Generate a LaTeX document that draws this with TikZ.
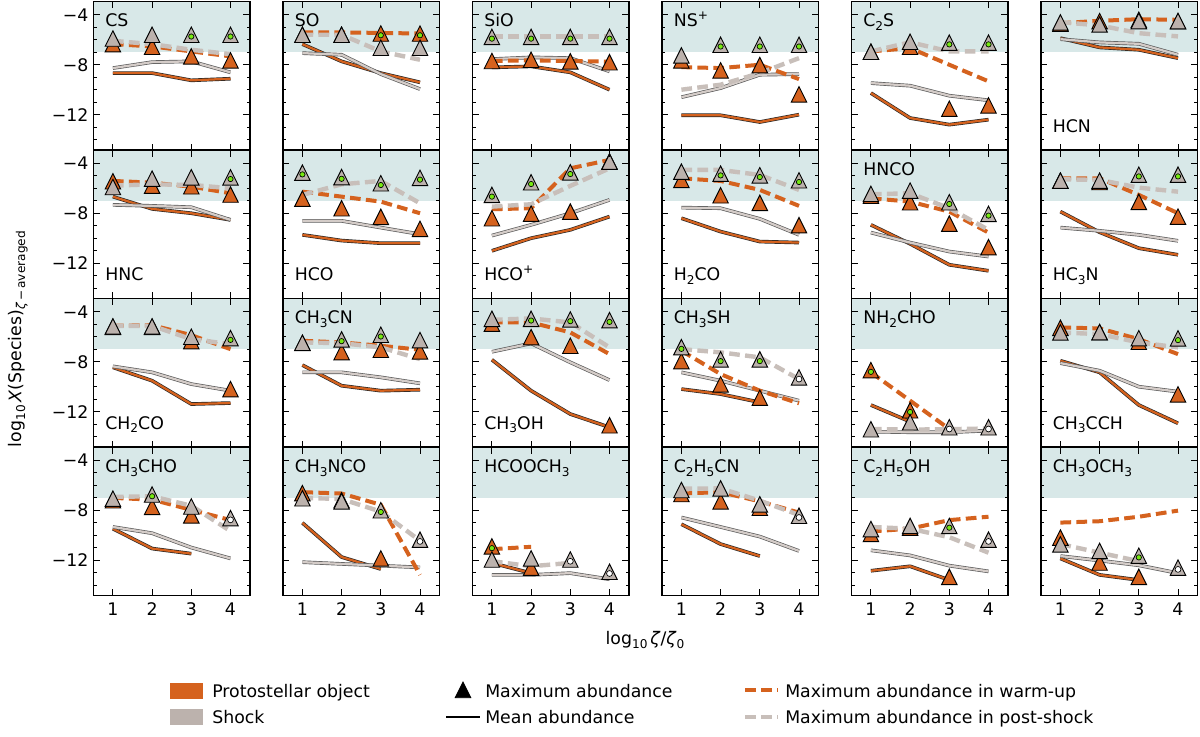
\documentclass[tikz,border=0pt]{standalone}
\usepackage{fontspec}
\setmainfont{DejaVu Sans}
\definecolor{cO}{RGB}{213,98,30}
\definecolor{cG}{RGB}{188,178,173}
\definecolor{cGl}{RGB}{212,204,200}
\definecolor{cGd}{RGB}{200,191,186}
\definecolor{cShade}{RGB}{216,232,232}
\definecolor{cLime}{RGB}{118,232,18}
\newcommand\sbs[1]{\raisebox{-0.22em}{\fontsize{9.1}{10}\selectfont #1}}
\newcommand\sps[1]{\raisebox{0.42em}{\fontsize{9.1}{10}\selectfont #1}}
\tikzset{
 meanO/.style={draw=black!85, line width=0.5pt, double=cO, double distance=1.7pt, line join=round},
 meanG/.style={draw=black!65, line width=0.5pt, double=cGl, double distance=1.7pt, line join=round},
 dashO/.style={draw=cO, line width=3pt, dash pattern=on 8pt off 4pt},
 dashG/.style={draw=cGd, line width=3.3pt, dash pattern=on 8pt off 4pt},
 trimk/.style={draw=black, line width=0.7pt, line join=miter},
 dotmk/.style={draw=black, line width=0.5pt},
 axframe/.style={draw=black, line width=1.1pt},
 tk/.style={draw=black, line width=0.75pt},
 tkl/.style={inner sep=0pt},
 plab/.style={inner sep=0pt, anchor=base west},
}
\newcommand\PmO[1]{\draw[meanO] plot coordinates {#1};}
\newcommand\PmG[1]{\draw[meanG] plot coordinates {#1};}
\newcommand\PdO[1]{\draw[dashO] plot coordinates {#1};}
\newcommand\PdG[1]{\draw[dashG] plot coordinates {#1};}
\newcommand\PtO[2]{\filldraw[trimk, fill=cO, shift={(#1,#2)}] (0pt,5.8pt) -- (-5.8pt,-5.8pt) -- (5.8pt,-5.8pt) -- cycle;}
\newcommand\PtG[2]{\filldraw[trimk, fill=cG, shift={(#1,#2)}] (0pt,5.8pt) -- (-5.8pt,-5.8pt) -- (5.8pt,-5.8pt) -- cycle;}
\newcommand\PgD[2]{\filldraw[dotmk, fill=cLime] ([yshift=-1.3pt]#1,#2) circle (2pt);}
\newcommand\PwD[2]{\filldraw[dotmk, fill=white] ([yshift=-1.3pt]#1,#2) circle (2.2pt);}
\newcommand\Panel[5]{%
 \pgfmathsetmacro\PXo{(93.3+189.5*#1-19.6)*0.75}%
 \pgfmathsetmacro\PYo{-(1.7+148.5*#2-36.8)*0.75}%
 \begin{scope}[shift={(\PXo pt,\PYo pt)}, x=29.4pt, y=9.36pt]
 \fill[cShade] (0.5,-7) rectangle (4.5,-2.95);
 #5
 \draw[axframe] (0.5,-14.85) rectangle (4.5,-2.95);
 \foreach \t in {1,2,3,4} {\draw[tk] (\t,-14.85) -- ++(0pt,5pt); \draw[tk] (\t,-2.95) -- ++(0pt,-5pt);}
 \foreach \t in {-4,-8,-12} {\draw[tk] (0.5,\t) -- ++(5pt,0pt); \draw[tk] (4.5,\t) -- ++(-5pt,0pt);}
 \foreach \t in {-5,-6,-7,-9,-10,-11,-13,-14} {\draw[tk] (0.5,\t) -- ++(2.6pt,0pt); \draw[tk] (4.5,\t) -- ++(-2.6pt,0pt);}
 \ifnum#1=0
  \foreach \v/\n in {-4/4,-8/8,-12/12} {\node[tkl, anchor=east] (yl#2n\n) at ([xshift=-3.5pt]0.5,\v) {−\n};}
 \fi
 \ifnum#2=3
  \foreach \t in {1,2,3,4} {\node[tkl] (xl#1n\t) at ([yshift=-9.8pt]\t,-14.85) {\t};}
 \fi
 \node[plab] (lab#1n#2) at (0.8,#4) {#3};
 \end{scope}}
\begin{document}
\begin{tikzpicture}[font=\fontsize{13}{15.5}\selectfont]
\useasboundingbox (0pt,0pt) rectangle (900pt,-552pt);
\fill[white] (0pt,0pt) rectangle (900pt,-552pt);
% ---------------- Row 0
\Panel{0}{0}{CS}{-4.96}{
\PmO{(1,-8.67) (2,-8.67) (3,-9.25) (4,-9.12)}
\PmG{(1,-8.27) (2,-7.79) (3,-7.73) (4,-8.61)}
\PdO{(1,-6.35) (2,-6.53) (3,-6.93) (4,-7.33)}
\PdG{(1,-6.08) (2,-6.35) (3,-6.8) (4,-7.15)}
\PtO{1}{-6.35}\PtO{2}{-6.56}\PtO{3}{-7.33}\PtO{4}{-7.65}
\PtG{1}{-5.9}\PtG{2}{-5.6}\PtG{3}{-5.6}\PgD{3}{-5.6}\PtG{4}{-5.6}\PgD{4}{-5.6}
}
\Panel{1}{0}{SO}{-4.96}{
\PmO{(1,-6.35) (2,-7.73) (3,-8.67) (4,-9.41)}
\PmG{(1,-7.07) (2,-7.2) (3,-8.75) (4,-9.95)}
\PdO{(1,-5.41) (2,-5.41) (3,-5.45) (4,-5.5)}
\PdG{(1,-5.6) (2,-5.6) (3,-6.93) (4,-7.6)}
\PtO{1}{-5.6}\PtO{2}{-5.6}\PtO{3}{-5.5}\PgD{3}{-5.5}\PtO{4}{-5.5}\PgD{4}{-5.5}
\PtG{1}{-5.6}\PtG{2}{-5.6}\PtG{3}{-6.64}\PtG{4}{-6.64}
}
\Panel{2}{0}{SiO}{-4.96}{
\PmO{(1,-8.21) (2,-8.13) (3,-8.61) (4,-10.0)}
\PmG{(1,-7.55) (2,-7.41) (3,-7.47) (4,-8.53)}
\PdO{(1,-7.7) (2,-7.65) (3,-7.7) (4,-7.75)}
\PdG{(1,-5.73) (2,-5.73) (3,-5.73) (4,-5.73)}
\PtO{1}{-7.7}\PtO{2}{-7.6}\PtO{3}{-7.73}\PtO{4}{-7.8}
\PtG{1}{-5.77}\PgD{1}{-5.77}\PtG{2}{-5.77}\PgD{2}{-5.77}\PtG{3}{-5.77}\PgD{3}{-5.77}\PtG{4}{-5.77}\PgD{4}{-5.77}
}
\Panel{3}{0}{NS\sps{+}}{-4.96}{
\PmO{(1,-12.05) (2,-12.05) (3,-12.59) (4,-12.0)}
\PmG{(1,-10.6) (2,-9.87) (3,-8.8) (4,-8.75)}
\PdO{(1,-8.19) (2,-8.27) (3,-8.0) (4,-9.15)}
\PdG{(1,-10.0) (2,-9.6) (3,-8.67) (4,-7.47)}
\PtO{1}{-7.65}\PtO{2}{-8.45}\PtO{3}{-8.03}\PtO{4}{-10.37}
\PtG{1}{-7.25}\PtG{2}{-6.4}\PgD{2}{-6.4}\PtG{3}{-6.4}\PgD{3}{-6.4}\PtG{4}{-6.4}\PgD{4}{-6.4}
}
\Panel{4}{0}{C\sbs{2}S}{-4.96}{
\PmO{(1,-10.27) (2,-12.27) (3,-12.8) (4,-12.4)}
\PmG{(1,-9.47) (2,-9.68) (3,-10.48) (4,-10.85)}
\PdO{(1,-6.93) (2,-6.67) (3,-8.0) (4,-9.33)}
\PdG{(1,-6.93) (2,-6.2) (3,-6.93) (4,-6.93)}
\PtO{1}{-6.96}\PtO{2}{-6.56}\PtO{3}{-11.52}\PtO{4}{-11.25}
\PtG{1}{-6.96}\PtG{2}{-6.16}\PtG{3}{-6.23}\PgD{3}{-6.23}\PtG{4}{-6.23}\PgD{4}{-6.23}
}
\Panel{5}{0}{HCN}{-13.4}{
\PmO{(1,-5.87) (2,-6.61) (3,-6.8) (4,-7.47)}
\PmG{(1,-5.95) (2,-6.21) (3,-6.32) (4,-7.2)}
\PdO{(1,-4.67) (2,-4.48) (3,-4.35) (4,-4.4)}
\PdG{(1,-4.59) (2,-4.85) (3,-5.47) (4,-5.73)}
\PtO{1}{-4.7}\PtO{2}{-4.5}\PtO{3}{-4.4}\PtO{4}{-4.5}
\PtG{1}{-4.61}\PtG{2}{-4.77}\PtG{3}{-4.5}\PtG{4}{-4.5}
}
% ---------------- Row 1
\Panel{0}{1}{HNC}{-13.4}{
\PmO{(1,-6.67) (2,-7.65) (3,-8.0) (4,-8.53)}
\PmG{(1,-7.33) (2,-7.41) (3,-7.52) (4,-8.53)}
\PdO{(1,-5.41) (2,-5.55) (3,-5.87) (4,-6.4)}
\PdG{(1,-5.79) (2,-5.68) (3,-5.73) (4,-6.0)}
\PtO{1}{-5.44}\PtO{2}{-5.79}\PtO{3}{-5.84}\PtO{4}{-6.5}
\PtG{1}{-5.9}\PtG{2}{-5.23}\PtG{3}{-5.12}\PtG{4}{-5.12}\PgD{4}{-5.12}
}
\Panel{1}{1}{HCO}{-13.4}{
\PmO{(1,-9.73) (2,-10.19) (3,-10.4) (4,-10.4)}
\PmG{(1,-8.61) (2,-8.61) (3,-9.15) (4,-9.68)}
\PdO{(1,-6.27) (2,-6.67) (3,-7.07) (4,-8.0)}
\PdG{(1,-6.53) (2,-5.68) (3,-5.41) (4,-7.2)}
\PtO{1}{-6.83}\PtO{2}{-7.6}\PtO{3}{-8.29}\PtO{4}{-9.25}
\PtG{1}{-4.75}\PgD{1}{-4.75}\PtG{2}{-5.1}\PgD{2}{-5.1}\PtG{3}{-5.6}\PgD{3}{-5.6}\PtG{4}{-5.17}\PgD{4}{-5.17}
}
\Panel{2}{1}{HCO\sps{+}}{-13.4}{
\PmO{(1,-11.01) (2,-10.0) (3,-9.33) (4,-8.27)}
\PmG{(1,-9.79) (2,-8.93) (3,-8.0) (4,-6.93)}
\PdO{(1,-7.68) (2,-7.6) (3,-4.4) (4,-3.73)}
\PdG{(1,-7.47) (2,-7.28) (3,-5.81) (4,-4.4)}
\PtO{1}{-8.4}\PtO{2}{-8.03}\PtO{3}{-7.87}\PtO{4}{-3.85}
\PtG{1}{-6.53}\PgD{1}{-6.53}\PtG{2}{-5.52}\PgD{2}{-5.52}\PtG{3}{-4.72}\PgD{3}{-4.72}\PtG{4}{-3.87}
}
\Panel{3}{1}{H\sbs{2}CO}{-13.4}{
\PmO{(1,-8.4) (2,-9.47) (3,-10.27) (4,-10.35)}
\PmG{(1,-7.55) (2,-7.6) (3,-8.45) (4,-9.73)}
\PdO{(1,-5.2) (2,-5.41) (3,-6.13) (4,-7.41)}
\PdG{(1,-4.53) (2,-4.53) (3,-4.93) (4,-6.13)}
\PtO{1}{-5.33}\PtO{2}{-6.56}\PtO{3}{-7.17}\PtO{4}{-8.96}
\PtG{1}{-4.67}\PtG{2}{-4.83}\PgD{2}{-4.83}\PtG{3}{-4.96}\PgD{3}{-4.96}\PtG{4}{-5.36}\PgD{4}{-5.36}
}
\Panel{4}{1}{HNCO}{-4.96}{
\PmO{(1,-8.93) (2,-10.45) (3,-12.13) (4,-12.61)}
\PmG{(1,-9.55) (2,-10.35) (3,-11.07) (4,-11.47)}
\PdO{(1,-6.8) (2,-7.07) (3,-7.87) (4,-9.55)}
\PdG{(1,-6.48) (2,-6.4) (3,-7.6) (4,-9.33)}
\PtO{1}{-6.6}\PtO{2}{-7.12}\PtO{3}{-8.83}\PtO{4}{-10.72}
\PtG{1}{-6.45}\PtG{2}{-6.19}\PtG{3}{-7.12}\PgD{3}{-7.12}\PtG{4}{-8.05}\PgD{4}{-8.05}
}
\Panel{5}{1}{HC\sbs{3}N}{-13.4}{
\PmO{(1,-7.87) (2,-9.52) (3,-10.8) (4,-11.33)}
\PmG{(1,-9.15) (2,-9.41) (3,-9.73) (4,-10.21)}
\PdO{(1,-5.2) (2,-5.2) (3,-6.53) (4,-8.0)}
\PdG{(1,-5.28) (2,-5.33) (3,-5.95) (4,-6.27)}
\PtO{1}{-5.39}\PtO{2}{-5.5}\PtO{3}{-7.09}\PtO{4}{-8.27}
\PtG{1}{-5.39}\PtG{2}{-5.39}\PtG{3}{-4.91}\PgD{3}{-4.91}\PtG{4}{-4.91}\PgD{4}{-4.91}
}
% ---------------- Row 2
\Panel{0}{2}{CH\sbs{2}CO}{-13.4}{
\PmO{(1,-8.45) (2,-9.52) (3,-11.39) (4,-11.31)}
\PmG{(1,-8.37) (2,-8.85) (3,-9.79) (4,-10.32)}
\PdO{(1,-5.12) (2,-5.07) (3,-5.87) (4,-6.99)}
\PdG{(1,-5.12) (2,-5.12) (3,-6.19) (4,-6.59)}
\PtO{1}{-5.2}\PtO{2}{-5.2}\PtO{3}{-6.35}\PtO{4}{-10.19}
\PtG{1}{-5.17}\PtG{2}{-5.17}\PtG{3}{-6.0}\PtG{4}{-6.11}\PgD{4}{-6.11}
}
\Panel{1}{2}{CH\sbs{3}CN}{-4.96}{
\PmO{(1,-8.27) (2,-9.92) (3,-10.32) (4,-10.24)}
\PmG{(1,-8.85) (2,-8.85) (3,-9.25) (4,-9.73)}
\PdO{(1,-6.32) (2,-6.45) (3,-6.72) (4,-7.04)}
\PdG{(1,-6.45) (2,-6.51) (3,-6.85) (4,-7.79)}
\PtO{1}{-6.5}\PtO{2}{-7.23}\PtO{3}{-7.04}\PtO{4}{-7.17}
\PtG{1}{-6.48}\PtG{2}{-6.21}\PgD{2}{-6.21}\PtG{3}{-5.84}\PgD{3}{-5.84}\PtG{4}{-6.27}
}
\Panel{2}{2}{CH\sbs{3}OH}{-13.4}{
\PmO{(1,-7.84) (2,-10.32) (3,-12.19) (4,-13.25)}
\PmG{(1,-7.2) (2,-6.53) (3,-8.05) (4,-9.47)}
\PdO{(1,-4.85) (2,-4.85) (3,-5.65) (4,-7.39)}
\PdG{(1,-4.64) (2,-4.53) (3,-4.85) (4,-6.85)}
\PtO{1}{-4.95}\PtO{2}{-6.03}\PtO{3}{-6.72}\PtO{4}{-13.09}
\PtG{1}{-4.56}\PtG{2}{-4.56}\PgD{2}{-4.56}\PtG{3}{-4.61}\PgD{3}{-4.61}\PtG{4}{-4.67}\PgD{4}{-4.67}
}
\Panel{3}{2}{CH\sbs{3}SH}{-4.96}{
\PmO{(1,-10.19) (2,-10.59) (3,-11.25)}
\PmG{(1,-8.85) (2,-9.52) (3,-10.32) (4,-11.12)}
\PdO{(1,-7.12) (2,-8.99) (3,-10.32) (4,-11.33)}
\PdG{(1,-6.99) (2,-7.25) (3,-7.65) (4,-9.39)}
\PtO{1}{-7.95}\PtO{2}{-9.81}\PtO{3}{-10.88}
\PtG{1}{-6.83}\PgD{1}{-6.83}\PtG{2}{-7.81}\PgD{2}{-7.81}\PtG{3}{-7.81}\PgD{3}{-7.81}\PtG{4}{-9.25}\PwD{4}{-9.25}
}
\Panel{4}{2}{NH\sbs{2}CHO}{-4.96}{
\PmO{(1,-11.47) (2,-12.8)}
\PmG{(1,-13.6) (2,-13.65) (3,-13.65) (4,-13.52)}
\PdO{(1,-8.85) (2,-11.12) (3,-13.39)}
\PdG{(1,-13.39) (2,-13.44) (3,-13.4) (4,-13.35)}
\PtO{1}{-8.67}\PgD{1}{-8.67}\PtO{2}{-11.89}\PgD{2}{-11.89}
\PtG{1}{-13.41}\PtG{2}{-12.85}\PtG{3}{-13.25}\PwD{3}{-13.25}\PtG{4}{-13.25}\PwD{4}{-13.25}
}
\Panel{5}{2}{CH\sbs{3}CCH}{-13.4}{
\PmO{(1,-7.92) (2,-8.85) (3,-11.47) (4,-12.93)}
\PmG{(1,-8.11) (2,-8.72) (3,-10.0) (4,-10.4)}
\PdO{(1,-5.25) (2,-5.33) (3,-6.19) (4,-7.39)}
\PdG{(1,-5.65) (2,-5.79) (3,-6.45) (4,-6.85)}
\PtO{1}{-5.28}\PtO{2}{-5.63}\PtO{3}{-6.4}\PtO{4}{-10.61}
\PtG{1}{-5.65}\PtG{2}{-5.63}\PtG{3}{-6.11}\PtG{4}{-6.13}\PgD{4}{-6.13}
}
% ---------------- Row 3
\Panel{0}{3}{CH\sbs{3}CHO}{-4.96}{
\PmO{(1,-9.48) (2,-11.07) (3,-11.48)}
\PmG{(1,-9.34) (2,-9.84) (3,-10.99) (4,-11.86)}
\PdO{(1,-7.01) (2,-7.15) (3,-7.97) (4,-8.79)}
\PdG{(1,-6.93) (2,-6.88) (3,-7.64) (4,-9.67)}
\PtO{1}{-7.2}\PtO{2}{-7.73}\PtO{3}{-8.41}
\PtG{1}{-7.07}\PtG{2}{-6.74}\PgD{2}{-6.74}\PtG{3}{-7.7}\PtG{4}{-8.63}\PwD{4}{-8.63}
}
\Panel{1}{3}{CH\sbs{3}NCO}{-4.96}{
\PmO{(1,-9.01) (2,-11.75) (3,-12.71)}
\PmG{(1,-12.16) (2,-12.3) (3,-12.44) (4,-12.58)}
\PdO{(1,-6.55) (2,-6.66) (3,-7.56) (4,-13.18)}
\PdG{(1,-7.01) (2,-7.1) (3,-8.11) (4,-10.44)}
\PtO{1}{-6.63}\PtO{2}{-7.2}\PtO{3}{-11.86}
\PtG{1}{-7.04}\PtG{2}{-7.29}\PtG{3}{-8.0}\PgD{3}{-8.0}\PtG{4}{-10.36}\PwD{4}{-10.36}
}
\Panel{2}{3}{HCOOCH\sbs{3}}{-4.96}{
\PmO{(1,-12.22) (2,-13.04)}
\PmG{(1,-13.18) (2,-13.18) (3,-13.04) (4,-13.53)}
\PdO{(1,-11.12) (2,-10.93)}
\PdG{(1,-12.08) (2,-12.49) (3,-12.22)}
\PtO{1}{-10.9}\PgD{1}{-10.9}\PtO{2}{-12.6}
\PtG{1}{-11.95}\PtG{2}{-11.86}\PtG{3}{-11.95}\PwD{3}{-11.95}\PtG{4}{-12.93}\PwD{4}{-12.93}
}
\Panel{3}{3}{C\sbs{2}H\sbs{5}CN}{-4.96}{
\PmO{(1,-9.12) (2,-10.71) (3,-11.67)}
\PmG{(1,-8.58) (2,-9.34) (3,-10.11) (4,-11.26)}
\PdO{(1,-6.66) (2,-6.55) (3,-7.29) (4,-8.19)}
\PdG{(1,-6.27) (2,-6.25) (3,-7.23) (4,-8.38)}
\PtO{1}{-6.7}\PtO{2}{-7.29}\PtO{3}{-7.8}
\PtG{1}{-6.38}\PtG{2}{-6.25}\PtG{3}{-7.53}\PtG{4}{-8.44}\PwD{4}{-8.44}
}
\Panel{4}{3}{C\sbs{2}H\sbs{5}OH}{-4.96}{
\PmO{(1,-12.85) (2,-12.49) (3,-13.59)}
\PmG{(1,-11.21) (2,-11.62) (3,-12.44) (4,-12.9)}
\PdO{(1,-9.7) (2,-9.48) (3,-8.79) (4,-8.52)}
\PdG{(1,-9.34) (2,-9.48) (3,-10.16) (4,-11.4)}
\PtO{1}{-9.9}\PtO{2}{-9.4}\PtO{3}{-13.34}
\PtG{1}{-9.51}\PtG{2}{-9.26}\PtG{3}{-9.26}\PgD{3}{-9.26}\PtG{4}{-10.36}\PwD{4}{-10.36}
}
\Panel{5}{3}{CH\sbs{3}OCH\sbs{3}}{-4.96}{
\PmO{(1,-11.86) (2,-13.18) (3,-13.59)}
\PmG{(1,-11.67) (2,-12.03) (3,-12.41) (4,-13.04)}
\PdO{(1,-8.99) (2,-8.88) (3,-8.52) (4,-8.03)}
\PdG{(1,-10.71) (2,-11.4) (3,-12.08)}
\PtO{1}{-10.19}\PtO{2}{-12.19}\PtO{3}{-13.34}
\PtG{1}{-10.74}\PtG{2}{-11.26}\PtG{3}{-11.64}\PgD{3}{-11.64}\PtG{4}{-12.6}\PwD{4}{-12.6}
}
% ---------------- axis labels
\node[rotate=90, inner sep=0pt] (ylab) at (13.5pt,-254.3pt) {log\sbs{10}\,\textit{X}(Species)\sbs{\textit{ζ}\,−\,averaged}};
\node[inner sep=0pt] (xlab) at (483.75pt,-480pt) {log\sbs{10}\,\textit{ζ}/\textit{ζ}\sbs{0}};
% ---------------- legend
\fill[cO] (127.5pt,-512.25pt) rectangle (152.25pt,-524.25pt);
\node[plab] (lg1) at (159pt,-522.75pt) {Protostellar object};
\fill[cG] (127.5pt,-531.75pt) rectangle (152.25pt,-543.75pt);
\node[plab] (lg2) at (159pt,-542.25pt) {Shock};
\filldraw[trimk, fill=black, shift={(347.25pt,-517.5pt)}] (0pt,5.8pt) -- (-5.8pt,-5.8pt) -- (5.8pt,-5.8pt) -- cycle;
\node[plab] (lg3) at (363.75pt,-522.75pt) {Maximum abundance};
\draw[black, line width=1.5pt] (334.5pt,-537.75pt) -- (360pt,-537.75pt);
\node[plab] (lg4) at (363.75pt,-542.25pt) {Mean abundance};
\draw[dashO] (558.75pt,-517.5pt) -- (583.5pt,-517.5pt);
\node[plab] (lg5) at (588.75pt,-522.75pt) {Maximum abundance in warm-up};
\draw[dashG] (558.75pt,-537.75pt) -- (583.5pt,-537.75pt);
\node[plab] (lg6) at (588.75pt,-542.25pt) {Maximum abundance in post-shock};
\end{tikzpicture}
\end{document}
